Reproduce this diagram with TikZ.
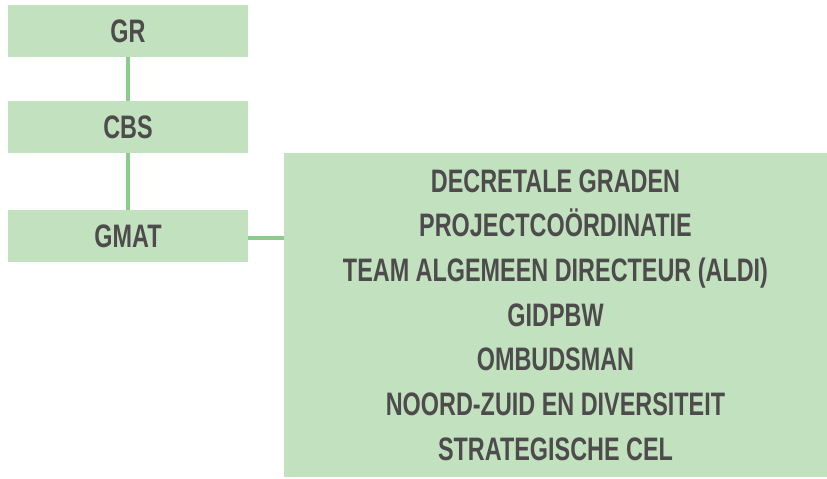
\documentclass[tikz,border=0pt]{standalone}
\usepackage{fontspec}
\newfontfamily\dinfont{Liberation Sans}[FakeStretch=0.72]
\definecolor{boxfill}{HTML}{C2E1BF}
\definecolor{linkcol}{HTML}{8CCB8C}
\definecolor{txtcol}{HTML}{4D4B4C}
\begin{document}
\begin{tikzpicture}[x=1pt,y=-1pt,
  orgbox/.style={fill=boxfill,draw=none,inner sep=0pt,text=txtcol,
    font=\dinfont\bfseries\fontsize{32.5}{44.7}\selectfont,align=center},
  link/.style={draw=linkcol,line width=4pt}]
\useasboundingbox (0,0) rectangle (827,479);
\node[orgbox,minimum width=240pt,minimum height=52pt] (gr) at (128,31) {GR};
\node[orgbox,minimum width=240pt,minimum height=52pt] (cbs) at (128,127) {CBS};
\node[orgbox,minimum width=240pt,minimum height=52pt] (gmat) at (128,236) {GMAT};
\node[orgbox,minimum width=543pt,minimum height=324pt] (big) at (555.5,315)
  {DECRETALE GRADEN\\PROJECTCOÖRDINATIE\\TEAM ALGEMEEN DIRECTEUR (ALDI)\\GIDPBW\\OMBUDSMAN\\NOORD-ZUID EN DIVERSITEIT\\STRATEGISCHE CEL};
\draw[link] (gr.south) -- (cbs.north);
\draw[link] (cbs.south) -- (gmat.north);
\draw[link] (gmat.east |- 0,238) -- (big.west |- 0,238);
\end{tikzpicture}
\end{document}
